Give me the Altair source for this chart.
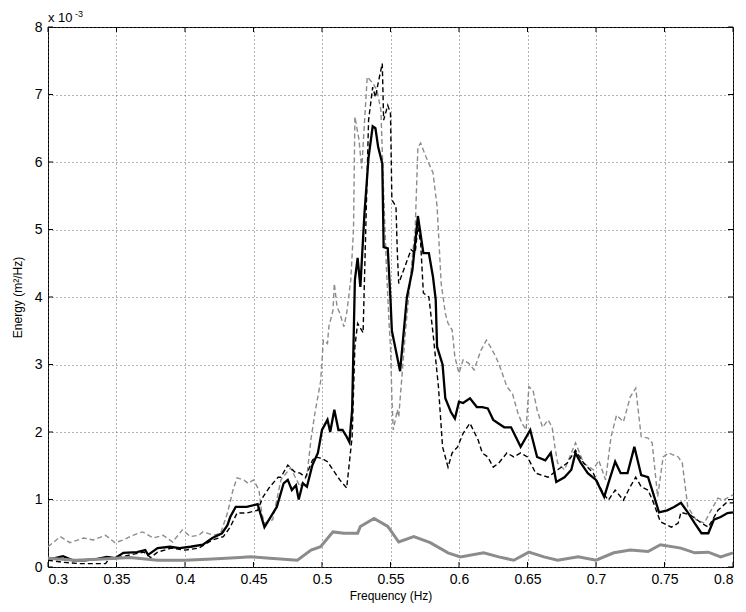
import altair as alt
import pandas as pd

# Frequencies (Hz) and energy values (x 1e-3 m^2/Hz)
bs_f = [0.300,0.305,0.311,0.318,0.327,0.336,0.343,0.349,0.355,0.365,0.371,0.373,0.380,0.389,0.396,0.404,0.413,0.420,0.427,0.431,0.433,0.437,0.445,0.453,0.458,0.467,0.472,0.475,0.478,0.481,0.483,0.486,0.489,0.493,0.497,0.500,0.504,0.506,0.509,0.512,0.515,0.518,0.520,0.522,0.524,0.526,0.528,0.531,0.534,0.537,0.539,0.541,0.544,0.545,0.548,0.550,0.551,0.553,0.557,0.562,0.566,0.570,0.574,0.578,0.581,0.583,0.584,0.588,0.590,0.594,0.597,0.600,0.603,0.608,0.613,0.617,0.621,0.625,0.633,0.638,0.645,0.652,0.657,0.663,0.667,0.671,0.677,0.682,0.685,0.689,0.694,0.700,0.706,0.709,0.714,0.718,0.723,0.728,0.733,0.738,0.741,0.746,0.752,0.757,0.762,0.767,0.772,0.777,0.782,0.786,0.791,0.796,0.800]
bs_v = [0.12,0.13,0.16,0.10,0.10,0.12,0.15,0.13,0.21,0.22,0.25,0.18,0.28,0.30,0.28,0.30,0.33,0.43,0.50,0.62,0.74,0.89,0.89,0.93,0.59,0.89,1.24,1.29,1.14,1.21,1.00,1.24,1.19,1.51,1.69,2.03,2.18,2.00,2.33,2.03,2.03,1.93,1.85,2.33,4.25,4.58,4.15,5.24,6.07,6.53,6.50,6.22,5.98,4.74,4.72,3.96,3.50,3.30,2.90,4.00,4.40,5.20,4.65,4.65,4.30,3.96,3.26,3.00,2.50,2.30,2.20,2.45,2.43,2.50,2.37,2.37,2.35,2.18,2.07,2.07,1.78,2.03,1.63,1.58,1.69,1.26,1.33,1.44,1.69,1.54,1.39,1.29,1.04,1.24,1.56,1.39,1.39,1.78,1.36,1.33,1.14,0.81,0.84,0.89,0.95,0.81,0.65,0.50,0.50,0.70,0.74,0.80,0.81]

bd_f = [0.300,0.311,0.323,0.336,0.342,0.345,0.350,0.360,0.370,0.375,0.380,0.390,0.400,0.410,0.420,0.428,0.433,0.438,0.445,0.453,0.457,0.462,0.468,0.470,0.475,0.480,0.484,0.488,0.493,0.495,0.500,0.504,0.508,0.513,0.518,0.522,0.524,0.526,0.530,0.534,0.537,0.539,0.541,0.544,0.545,0.548,0.550,0.551,0.554,0.555,0.556,0.565,0.568,0.570,0.572,0.574,0.578,0.581,0.585,0.588,0.590,0.592,0.595,0.599,0.603,0.608,0.614,0.617,0.621,0.625,0.629,0.635,0.640,0.645,0.650,0.656,0.665,0.672,0.679,0.685,0.691,0.698,0.705,0.709,0.714,0.720,0.725,0.729,0.733,0.738,0.742,0.747,0.755,0.760,0.762,0.769,0.777,0.782,0.789,0.795,0.800]
bd_v = [0.10,0.07,0.05,0.05,0.05,0.13,0.13,0.18,0.22,0.14,0.22,0.28,0.25,0.28,0.40,0.45,0.59,0.80,0.80,0.84,1.04,1.19,1.33,1.33,1.51,1.41,1.39,1.33,1.58,1.63,1.61,1.56,1.44,1.29,1.17,1.93,3.26,3.61,3.47,6.62,7.11,6.96,7.17,7.46,6.62,6.84,6.72,5.44,5.34,4.65,4.20,4.70,4.65,5.04,4.80,4.06,4.00,3.47,2.67,1.78,1.63,1.48,1.69,1.78,1.98,2.13,1.88,1.69,1.63,1.48,1.54,1.69,1.63,1.69,1.63,1.39,1.33,1.44,1.54,1.73,1.54,1.39,1.10,0.99,1.14,0.99,1.19,1.33,1.19,1.14,0.95,0.67,0.59,0.65,0.81,0.77,0.65,0.59,0.84,0.95,0.95]

gd_f = [0.300,0.309,0.316,0.326,0.333,0.342,0.349,0.355,0.362,0.369,0.377,0.384,0.391,0.398,0.404,0.410,0.413,0.421,0.426,0.431,0.435,0.438,0.443,0.446,0.450,0.454,0.456,0.458,0.464,0.470,0.477,0.484,0.489,0.492,0.495,0.499,0.501,0.504,0.505,0.508,0.509,0.511,0.513,0.516,0.518,0.521,0.523,0.524,0.527,0.529,0.533,0.537,0.540,0.543,0.545,0.547,0.549,0.550,0.551,0.552,0.555,0.556,0.561,0.566,0.568,0.570,0.572,0.576,0.581,0.584,0.587,0.590,0.592,0.595,0.597,0.600,0.603,0.607,0.611,0.616,0.620,0.623,0.627,0.630,0.635,0.639,0.643,0.646,0.649,0.651,0.654,0.657,0.661,0.665,0.668,0.670,0.672,0.677,0.685,0.691,0.698,0.702,0.707,0.711,0.715,0.720,0.725,0.729,0.733,0.738,0.741,0.745,0.749,0.753,0.760,0.763,0.767,0.773,0.779,0.784,0.789,0.793,0.800]
gd_v = [0.30,0.45,0.36,0.43,0.40,0.47,0.36,0.40,0.47,0.52,0.43,0.47,0.37,0.55,0.45,0.47,0.52,0.47,0.50,0.80,1.14,1.32,1.29,1.24,1.29,1.14,0.80,0.65,0.70,1.29,1.47,1.19,1.35,1.90,2.30,2.75,3.36,3.31,3.56,3.80,4.20,3.85,3.76,3.56,3.76,4.25,5.00,6.67,6.33,5.90,7.26,7.17,7.07,6.77,5.54,4.45,3.60,3.26,2.52,2.03,2.33,2.22,3.51,4.60,5.00,6.22,6.28,6.07,5.84,5.34,4.20,3.76,3.61,3.51,3.11,2.87,3.07,3.02,2.92,3.21,3.36,3.26,3.11,2.96,2.67,2.57,2.28,2.13,2.03,2.67,2.62,2.33,2.07,2.18,2.07,1.78,1.54,1.44,1.84,1.54,1.44,1.58,1.29,1.93,2.25,2.15,2.52,2.65,1.93,1.91,1.84,1.04,1.63,1.69,1.63,1.54,0.89,0.70,0.65,0.84,1.02,0.99,1.07]

gs_f = [0.300,0.320,0.340,0.360,0.380,0.400,0.420,0.440,0.448,0.462,0.482,0.492,0.499,0.508,0.516,0.526,0.528,0.538,0.548,0.556,0.567,0.579,0.592,0.601,0.618,0.629,0.640,0.651,0.662,0.672,0.687,0.700,0.713,0.725,0.738,0.747,0.762,0.772,0.782,0.791,0.800]
gs_v = [0.13,0.10,0.12,0.14,0.10,0.10,0.12,0.14,0.15,0.13,0.10,0.25,0.30,0.52,0.50,0.50,0.60,0.72,0.60,0.37,0.45,0.36,0.21,0.15,0.21,0.15,0.10,0.22,0.15,0.10,0.15,0.10,0.21,0.25,0.23,0.33,0.28,0.21,0.22,0.15,0.21]

x_ticks = [0.3, 0.35, 0.4, 0.45, 0.5, 0.55, 0.6, 0.65, 0.7, 0.75, 0.8]
y_ticks = [0, 1, 2, 3, 4, 5, 6, 7, 8]

W, H = 685, 540
FONT = "Liberation Sans"

xs = alt.Scale(domain=[0.3, 0.8], nice=False, zero=False)
ys = alt.Scale(domain=[0, 8], nice=False, zero=True)

def series(f, v):
    return pd.DataFrame({"f": f, "v": v})

X = alt.X("f:Q", scale=xs,
          axis=alt.Axis(values=x_ticks, format=".2~f", title="Frequency (Hz)",
                        grid=True, ticks=False, domain=False, labelPadding=5,
                        titlePadding=4))
Y = alt.Y("v:Q", scale=ys,
          axis=alt.Axis(values=y_ticks, format="d", title="Energy (m²/Hz)",
                        grid=True, ticks=False, domain=False, labelPadding=6,
                        titlePadding=10))

base_grid = alt.Chart(series(gs_f, gs_v)).mark_line(opacity=0).encode(x=X, y=Y)

gd = alt.Chart(series(gd_f, gd_v)).mark_line(
    color="#8c8c8c", strokeWidth=1.4, strokeDash=[5, 3]).encode(
    x=alt.X("f:Q", scale=xs), y=alt.Y("v:Q", scale=ys))
bd = alt.Chart(series(bd_f, bd_v)).mark_line(
    color="#000000", strokeWidth=1.4, strokeDash=[5, 3]).encode(
    x=alt.X("f:Q", scale=xs), y=alt.Y("v:Q", scale=ys))
bs = alt.Chart(series(bs_f, bs_v)).mark_line(
    color="#000000", strokeWidth=2.3).encode(
    x=alt.X("f:Q", scale=xs), y=alt.Y("v:Q", scale=ys))
gs = alt.Chart(series(gs_f, gs_v)).mark_line(
    color="#8c8c8c", strokeWidth=3).encode(
    x=alt.X("f:Q", scale=xs), y=alt.Y("v:Q", scale=ys))

xt = pd.DataFrame({"f": x_ticks})
yt = pd.DataFrame({"v": y_ticks})
tick_b = alt.Chart(xt).mark_rule(color="black", strokeWidth=1).encode(
    x=alt.X("f:Q", scale=xs), y=alt.value(H), y2=alt.value(H - 5))
tick_t = alt.Chart(xt).mark_rule(color="black", strokeWidth=1).encode(
    x=alt.X("f:Q", scale=xs), y=alt.value(0), y2=alt.value(5))
tick_l = alt.Chart(yt).mark_rule(color="black", strokeWidth=1).encode(
    y=alt.Y("v:Q", scale=ys), x=alt.value(0), x2=alt.value(5))
tick_r = alt.Chart(yt).mark_rule(color="black", strokeWidth=1).encode(
    y=alt.Y("v:Q", scale=ys), x=alt.value(W), x2=alt.value(W - 5))

exp_base = alt.Chart(pd.DataFrame({"t": ["x 10"]})).mark_text(
    font=FONT, fontSize=13, align="left", baseline="alphabetic", color="black").encode(
    text="t:N", x=alt.value(0), y=alt.value(-5))
exp_sup = alt.Chart(pd.DataFrame({"t": ["-3"]})).mark_text(
    font=FONT, fontSize=9, align="left", baseline="alphabetic", color="black").encode(
    text="t:N", x=alt.value(27), y=alt.value(-10))

chart = alt.layer(base_grid, gd, bd, bs, gs, tick_b, tick_t, tick_l, tick_r,
                  exp_base, exp_sup).properties(
    width=W, height=H,
    background="white",
    autosize=alt.AutoSizeParams(type="none"),
    padding={"left": 40, "top": 19, "right": 5, "bottom": 40},
).configure_view(stroke="black", strokeWidth=1).configure_axis(
    labelFont=FONT, labelFontSize=14, labelColor="black",
    titleFont=FONT, titleFontSize=12, titleColor="black", titleFontWeight="normal",
    gridColor="#555555", gridDash=[1, 3], gridWidth=1, gridOpacity=0.9,
)

chart.save("out.html", embed_options={"renderer": "svg", "actions": False})
